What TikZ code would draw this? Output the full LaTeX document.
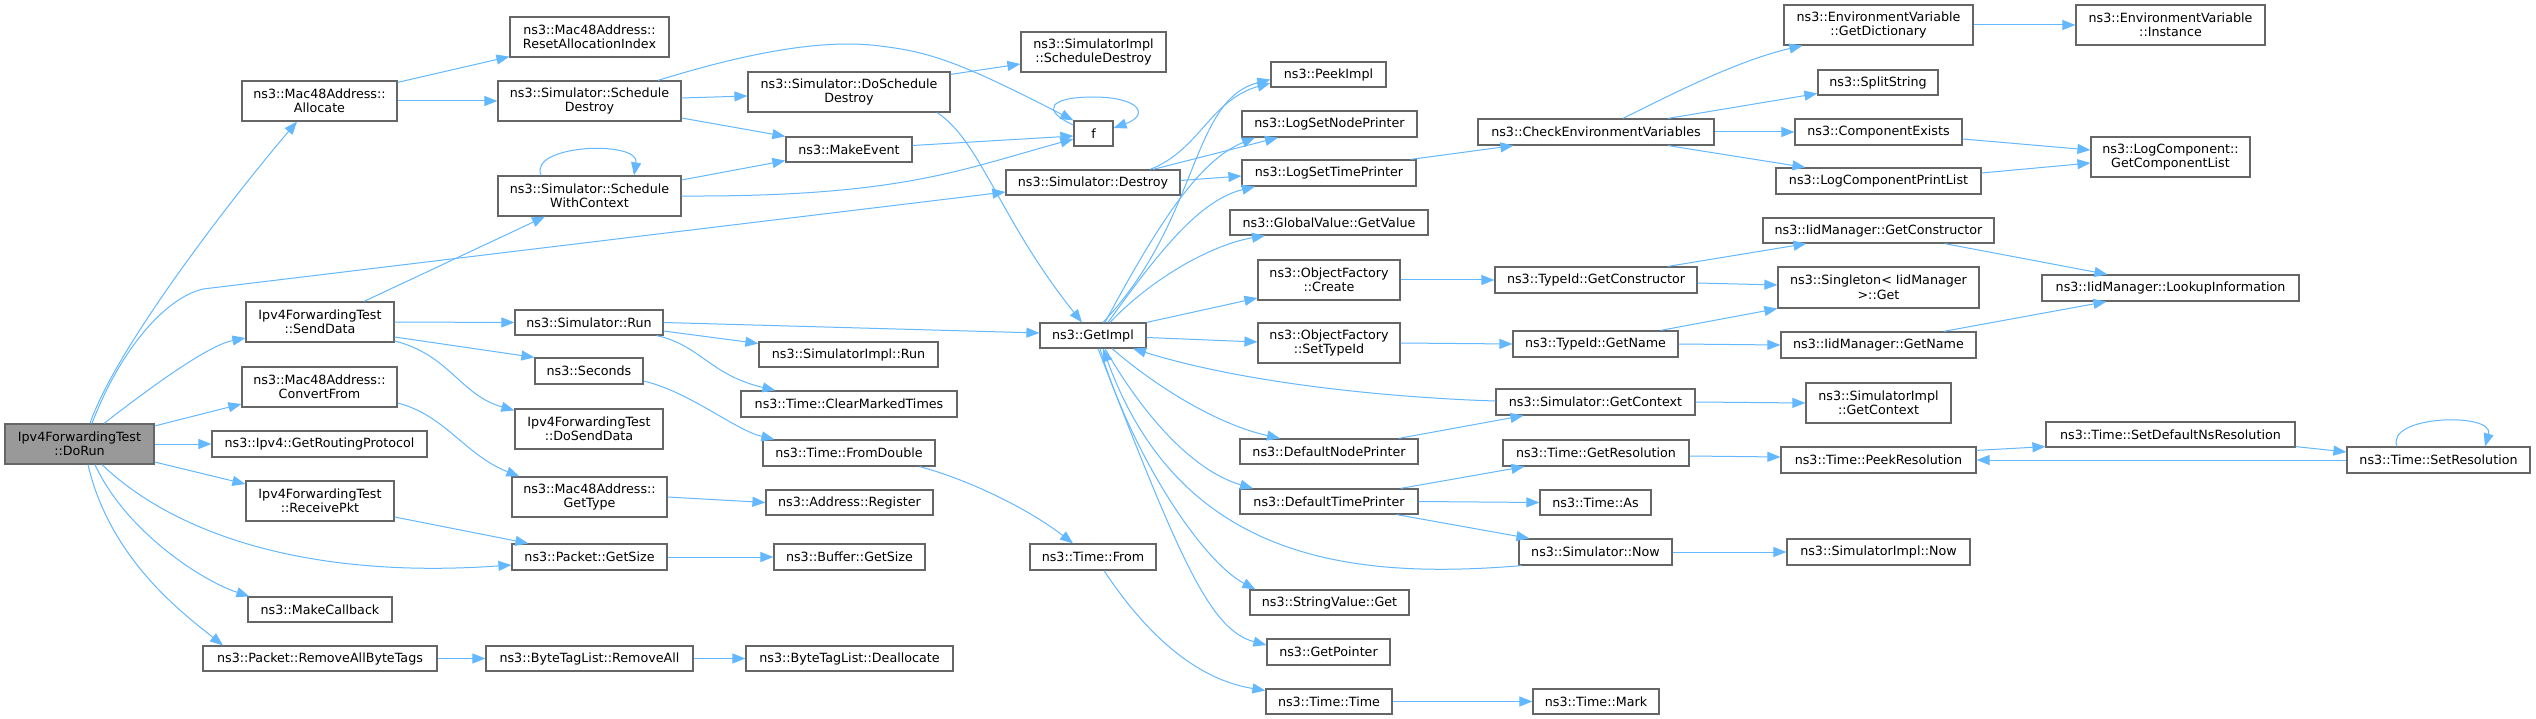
\documentclass[tikz,border=0pt]{standalone}
\usepackage{fontspec}
\setmainfont{DejaVu Sans}
\usetikzlibrary{arrows.meta}
\definecolor{edgecol}{HTML}{63B8FF}
\definecolor{bordercol}{HTML}{666666}
\definecolor{rootfill}{HTML}{999999}
\tikzset{
  box/.style={draw=bordercol, line width=1.2pt, fill=white, inner sep=0pt, align=center,
    font=\fontsize{12.7pt}{14.5pt}\selectfont},
  rootbox/.style={fill=rootfill},
  plain/.style={},
  conn/.style={draw=edgecol, line width=1pt, -{Triangle[length=13pt,width=10pt]}},
}
\newcommand\mknode[7]{\node[box,#1,minimum width={#5-#3},minimum height={#6-#4}] (#2) at ({(#3+#5)/2},{(#4+#6)/2}) {#7};}
\begin{document}
\begin{tikzpicture}[x=1pt,y=-1pt]
\fill[white] (0,0) rectangle (2536,719);
\useasboundingbox (0,0) rectangle (2536,719);
% nodes
\mknode{rootbox}{dorun}{5}{424}{154}{464}{Ipv4ForwardingTest\\::DoRun}
\mknode{plain}{allocate}{242}{81}{397}{121}{ns3::Mac48Address::\\Allocate}
\mknode{plain}{resetalloc}{510}{17}{669}{57}{ns3::Mac48Address::\\ResetAllocationIndex}
\mknode{plain}{schedDestroy}{498}{81}{681}{121}{ns3::Simulator::Schedule\\Destroy}
\mknode{plain}{schedWC}{498}{176}{681}{216}{ns3::Simulator::Schedule\\WithContext}
\mknode{plain}{sendData}{246}{302}{394}{342}{Ipv4ForwardingTest\\::SendData}
\mknode{plain}{simRun}{515}{310}{663}{335}{ns3::Simulator::Run}
\mknode{plain}{seconds}{535}{358}{643}{384}{ns3::Seconds}
\mknode{plain}{convertFrom}{242}{367}{397}{407}{ns3::Mac48Address::\\ConvertFrom}
\mknode{plain}{getRouting}{212}{431}{427}{457}{ns3::Ipv4::GetRoutingProtocol}
\mknode{plain}{receivePkt}{246}{481}{394}{521}{Ipv4ForwardingTest\\::ReceivePkt}
\mknode{plain}{makeCallback}{248}{597}{392}{622}{ns3::MakeCallback}
\mknode{plain}{removeAllBT}{203}{646}{437}{671}{ns3::Packet::RemoveAllByteTags}
\mknode{plain}{doSendData}{515}{409}{663}{449}{Ipv4ForwardingTest\\::DoSendData}
\mknode{plain}{getType}{512}{477}{667}{517}{ns3::Mac48Address::\\GetType}
\mknode{plain}{pktGetSize}{512}{544}{667}{570}{ns3::Packet::GetSize}
\mknode{plain}{btlRemoveAll}{486}{646}{693}{671}{ns3::ByteTagList::RemoveAll}
\mknode{plain}{simImplSchedDestroy}{1021}{32}{1166}{72}{ns3::SimulatorImpl\\::ScheduleDestroy}
\mknode{plain}{doSchedDestroy}{748}{72}{950}{112}{ns3::Simulator::DoSchedule\\Destroy}
\mknode{plain}{f}{1074}{121}{1113}{146}{f}
\mknode{plain}{makeEvent}{786}{137}{912}{162}{ns3::MakeEvent}
\mknode{plain}{simDestroy}{1006}{170}{1180}{195}{ns3::Simulator::Destroy}
\mknode{plain}{peekImpl}{1271}{62}{1386}{87}{ns3::PeekImpl}
\mknode{plain}{logSetNode}{1242}{111}{1417}{137}{ns3::LogSetNodePrinter}
\mknode{plain}{logSetTime}{1242}{160}{1416}{186}{ns3::LogSetTimePrinter}
\mknode{plain}{globalValue}{1230}{210}{1428}{235}{ns3::GlobalValue::GetValue}
\mknode{plain}{ofCreate}{1258}{260}{1400}{300}{ns3::ObjectFactory\\::Create}
\mknode{plain}{ofSetTypeId}{1258}{323}{1400}{363}{ns3::ObjectFactory\\::SetTypeId}
\mknode{plain}{getImpl}{1040}{323}{1146}{348}{ns3::GetImpl}
\mknode{plain}{simImplRun}{759}{342}{938}{367}{ns3::SimulatorImpl::Run}
\mknode{plain}{clearMarked}{741}{391}{957}{417}{ns3::Time::ClearMarkedTimes}
\mknode{plain}{fromDouble}{763}{440}{935}{466}{ns3::Time::FromDouble}
\mknode{plain}{addrRegister}{766}{490}{933}{515}{ns3::Address::Register}
\mknode{plain}{bufGetSize}{774}{544}{925}{570}{ns3::Buffer::GetSize}
\mknode{plain}{btlDealloc}{746}{646}{953}{671}{ns3::ByteTagList::Deallocate}
\mknode{plain}{timeFrom}{1030}{544}{1156}{570}{ns3::Time::From}
\mknode{plain}{defNodePrinter}{1240}{439}{1418}{464}{ns3::DefaultNodePrinter}
\mknode{plain}{defTimePrinter}{1240}{489}{1418}{514}{ns3::DefaultTimePrinter}
\mknode{plain}{stringValueGet}{1250}{590}{1409}{615}{ns3::StringValue::Get}
\mknode{plain}{getPointer}{1267}{639}{1390}{665}{ns3::GetPointer}
\mknode{plain}{timeTime}{1266}{689}{1392}{714}{ns3::Time::Time}
\mknode{plain}{checkEnv}{1478}{119}{1714}{145}{ns3::CheckEnvironmentVariables}
\mknode{plain}{getDict}{1784}{5}{1973}{45}{ns3::EnvironmentVariable\\::GetDictionary}
\mknode{plain}{splitString}{1818}{70}{1938}{95}{ns3::SplitString}
\mknode{plain}{compExists}{1795}{119}{1962}{145}{ns3::ComponentExists}
\mknode{plain}{logCompPrint}{1776}{168}{1981}{194}{ns3::LogComponentPrintList}
\mknode{plain}{iidGetCtor}{1763}{218}{1994}{243}{ns3::IidManager::GetConstructor}
\mknode{plain}{typeIdGetCtor}{1495}{267}{1697}{293}{ns3::TypeId::GetConstructor}
\mknode{plain}{singleton}{1778}{267}{1979}{308}{ns3::Singleton< IidManager\\>::Get}
\mknode{plain}{typeIdGetName}{1513}{331}{1678}{357}{ns3::TypeId::GetName}
\mknode{plain}{iidGetName}{1781}{332}{1976}{358}{ns3::IidManager::GetName}
\mknode{plain}{envInstance}{2076}{5}{2265}{45}{ns3::EnvironmentVariable\\::Instance}
\mknode{plain}{getCompList}{2091}{137}{2250}{177}{ns3::LogComponent::\\GetComponentList}
\mknode{plain}{lookupInfo}{2042}{275}{2299}{301}{ns3::IidManager::LookupInformation}
\mknode{plain}{simGetContext}{1496}{389}{1695}{415}{ns3::Simulator::GetContext}
\mknode{plain}{simImplGetContext}{1806}{383}{1951}{423}{ns3::SimulatorImpl\\::GetContext}
\mknode{plain}{getResolution}{1503}{440}{1689}{466}{ns3::Time::GetResolution}
\mknode{plain}{peekResolution}{1781}{447}{1976}{473}{ns3::Time::PeekResolution}
\mknode{plain}{timeAs}{1540}{490}{1651}{515}{ns3::Time::As}
\mknode{plain}{simNow}{1519}{539}{1672}{565}{ns3::Simulator::Now}
\mknode{plain}{simImplNow}{1787}{539}{1970}{565}{ns3::SimulatorImpl::Now}
\mknode{plain}{timeMark}{1533}{689}{1659}{714}{ns3::Time::Mark}
\mknode{plain}{setDefNs}{2046}{422}{2295}{447}{ns3::Time::SetDefaultNsResolution}
\mknode{plain}{setResolution}{2347}{447}{2530}{473}{ns3::Time::SetResolution}
% edges from DoRun
\draw[conn] ([xshift=10.5pt]dorun.north) .. controls (115,350) and (230,200) .. ([xshift=-22.5pt]allocate.south);
\draw[conn] ([xshift=12.5pt]dorun.north) .. controls (120,350) and (165,298) .. (203,289) -- ([yshift=-9.5pt]simDestroy.west);
\draw[conn] ([xshift=24.5pt]dorun.north) .. controls (160,380) and (210,345) .. ([yshift=-16pt]sendData.west);
\draw[conn] ([yshift=18pt]dorun.east) -- ([yshift=-17pt]convertFrom.west);
\draw[conn] (dorun.east) -- (getRouting.west);
\draw[conn] ([yshift=-18pt]dorun.east) -- ([yshift=17pt]receivePkt.west);
\draw[conn] ([xshift=22.5pt]dorun.south) .. controls (170,530) and (300,580) .. ([yshift=-8pt]pktGetSize.west);
\draw[conn] ([xshift=15.5pt]dorun.south) .. controls (125,530) and (200,580) .. ([xshift=2pt]makeCallback.north west);
\draw[conn] ([xshift=8.5pt]dorun.south) .. controls (110,560) and (185,615) .. ([xshift=-97pt]removeAllBT.north);
% column 2
\draw[conn] ([yshift=-2pt]allocate.north east) -- ([yshift=1pt]resetalloc.south west);
\draw[conn] (allocate.east) -- (schedDestroy.west);
\draw[conn] ([yshift=-16pt]convertFrom.east) .. controls (445,415) and (465,455) .. ([xshift=8pt]getType.north west);
\draw[conn] ([yshift=-16pt]receivePkt.east) -- ([xshift=17pt]pktGetSize.north west);
\draw[conn] (removeAllBT.east) -- (btlRemoveAll.west);
\draw[conn] ([xshift=44pt]sendData.north) -- ([xshift=-44.5pt]schedWC.south);
\draw[conn] (sendData.east) -- (simRun.west);
\draw[conn] ([yshift=-15pt]sendData.east) -- (seconds.north west);
\draw[conn] ([yshift=-19pt]sendData.east) .. controls (450,355) and (460,395) .. ([yshift=-2pt]doSendData.north west);
% column 3
\draw[conn] ([xshift=68.5pt]schedDestroy.north) .. controls (740,55) and (820,38) .. (880,46) .. controls (930,52) and (960,62) .. (f.north west);
\draw[conn] ([yshift=3pt]schedDestroy.east) -- ([yshift=-4pt]doSchedDestroy.west);
\draw[conn] ([yshift=-17pt]schedDestroy.east) -- (makeEvent.north west);
\draw[conn] ([xshift=-48.5pt]schedWC.north) .. controls (528,144) and (640,140) .. ([xshift=44.5pt]schedWC.north);
\draw[conn] ([yshift=16pt]schedWC.east) -- ([yshift=2pt]makeEvent.south west);
\draw[conn] (schedWC.east) .. controls (900,197) and (960,170) .. ([yshift=-5.5pt]f.west);
\draw[conn] (simRun.east) -- ([yshift=2.5pt]getImpl.west);
\draw[conn] ([yshift=-8.5pt]simRun.east) -- ([yshift=11pt]simImplRun.west);
\draw[conn] ([xshift=-7pt]simRun.south east) .. controls (700,345) and (710,375) .. ([xshift=35pt]clearMarked.north west);
\draw[conn] ([yshift=-10pt]seconds.east) .. controls (690,392) and (735,430) .. ([xshift=12pt]fromDouble.north west);
\draw[conn] (getType.east) -- (addrRegister.west);
\draw[conn] (pktGetSize.east) -- (bufGetSize.west);
\draw[conn] (btlRemoveAll.east) -- (btlDealloc.west);
% column 4
\draw[conn] ([yshift=-3pt]doSchedDestroy.north east) -- ([yshift=-12pt]simImplSchedDestroy.west);
\draw[conn] ([xshift=88pt]doSchedDestroy.south) .. controls (980,140) and (1000,220) .. ([xshift=-11pt]getImpl.north);
\draw[conn] ([yshift=4pt]makeEvent.east) -- ([yshift=-2.5pt]f.west);
\draw[conn] ([xshift=-16pt]fromDouble.south east) .. controls (970,480) and (1030,510) .. ([xshift=-20pt]timeFrom.north);
% column 5
\draw[conn] ([yshift=8.5pt]f.west) .. controls (1040,110) and (1050,97) .. (1093,97) .. controls (1140,97) and (1150,115) .. ([yshift=5.5pt]f.east);
\draw[conn] ([xshift=57pt]simDestroy.north) .. controls (1200,150) and (1210,100) .. ([yshift=-8.5pt]peekImpl.west);
\draw[conn] ([xshift=60pt]simDestroy.north) -- ([xshift=-51.5pt]logSetNode.south);
\draw[conn] ([yshift=2pt]simDestroy.east) -- ([yshift=-3pt]logSetTime.west);
\draw[conn] ([xshift=10pt]getImpl.north) .. controls (1200,220) and (1190,100) .. ([yshift=-5pt]peekImpl.west);
\draw[conn] ([xshift=12pt]getImpl.north) .. controls (1160,220) and (1200,160) .. ([xshift=-74.5pt]logSetNode.south);
\draw[conn] ([xshift=15pt]getImpl.north) .. controls (1160,250) and (1200,200) .. ([xshift=-74pt]logSetTime.south);
\draw[conn] ([xshift=17pt]getImpl.north) .. controls (1150,280) and (1210,245) .. ([xshift=-64pt]globalValue.south);
\draw[conn] (getImpl.north east) -- ([yshift=-18pt]ofCreate.west);
\draw[conn] ([yshift=-2pt]getImpl.east) -- ([yshift=1pt]ofSetTypeId.west);
\draw[conn] ([xshift=19pt]getImpl.south) .. controls (1160,390) and (1220,425) .. ([xshift=-49pt]defNodePrinter.north);
\draw[conn] ([xshift=12pt]getImpl.south) .. controls (1140,410) and (1190,470) .. ([xshift=-76pt]defTimePrinter.north);
\draw[conn] ([xshift=7pt]getImpl.south) .. controls (1130,450) and (1200,560) .. ([xshift=6pt]stringValueGet.north west);
\draw[conn] ([xshift=5pt]getImpl.south) .. controls (1180,560) and (1210,630) .. ([yshift=7pt]getPointer.west);
\draw[conn] ([xshift=11pt]timeFrom.south) .. controls (1150,640) and (1200,680) .. ([yshift=11pt]timeTime.west);
% column 6
\draw[conn] ([yshift=1pt]simGetContext.west) .. controls (1400,398) and (1250,385) .. ([xshift=40pt]getImpl.south);
\draw[conn] ([xshift=3pt]simNow.south west) .. controls (1350,580) and (1180,560) .. ([xshift=10pt]getImpl.south);
\draw[conn] ([xshift=-20pt]defNodePrinter.north east) -- ([xshift=28pt]simGetContext.south west);
\draw[conn] ([xshift=-18pt]defTimePrinter.north east) -- ([xshift=22pt]getResolution.south west);
\draw[conn] (defTimePrinter.east) -- (timeAs.west);
\draw[conn] ([xshift=-22pt]defTimePrinter.south east) -- ([xshift=11pt]simNow.north west);
\draw[conn] ([xshift=-6pt]logSetTime.north east) -- ([xshift=36pt]checkEnv.south west);
\draw[conn] (ofCreate.east) -- (typeIdGetCtor.west);
\draw[conn] (ofSetTypeId.east) -- (typeIdGetName.west);
\draw[conn] (timeTime.east) -- (timeMark.west);
% column 7
\draw[conn] (simNow.east) -- (simImplNow.west);
\draw[conn] (simGetContext.east) -- (simImplGetContext.west);
\draw[conn] ([yshift=-3pt]getResolution.east) -- ([yshift=3pt]peekResolution.west);
\draw[conn] ([xshift=27pt]checkEnv.north) .. controls (1680,90) and (1740,60) .. ([xshift=19pt]getDict.south west);
\draw[conn] ([xshift=72pt]checkEnv.north) -- ([yshift=-11pt]splitString.west);
\draw[conn] (checkEnv.east) -- (compExists.west);
\draw[conn] ([xshift=72pt]checkEnv.south) -- ([xshift=30pt]logCompPrint.north west);
\draw[conn] ([xshift=72pt]typeIdGetCtor.north) -- ([xshift=44pt]iidGetCtor.south west);
\draw[conn] ([yshift=-3pt]typeIdGetCtor.east) -- ([yshift=2.5pt]singleton.west);
\draw[conn] ([xshift=-18pt]typeIdGetName.north east) -- (singleton.south west);
\draw[conn] (typeIdGetName.east) -- (iidGetName.west);
% column 8+
\draw[conn] (getDict.east) -- (envInstance.west);
\draw[conn] ([yshift=-7pt]compExists.east) -- ([yshift=7pt]getCompList.west);
\draw[conn] ([yshift=8pt]logCompPrint.east) -- ([yshift=-6pt]getCompList.west);
\draw[conn] ([xshift=-50pt]iidGetCtor.south east) -- ([xshift=66pt]lookupInfo.north west);
\draw[conn] ([xshift=-33pt]iidGetName.north east) -- ([xshift=65pt]lookupInfo.south west);
\draw[conn] ([yshift=-4pt]peekResolution.north east) -- ([yshift=1pt]setDefNs.south west);
\draw[conn] ([yshift=1pt]setDefNs.south east) -- ([yshift=8pt]setResolution.west);
\draw[conn] (setResolution.west) -- (peekResolution.east);
\draw[conn] ([xshift=-41.5pt]setResolution.north) .. controls (2385,415) and (2495,412) .. ([xshift=46.5pt]setResolution.north);
\end{tikzpicture}
\end{document}
